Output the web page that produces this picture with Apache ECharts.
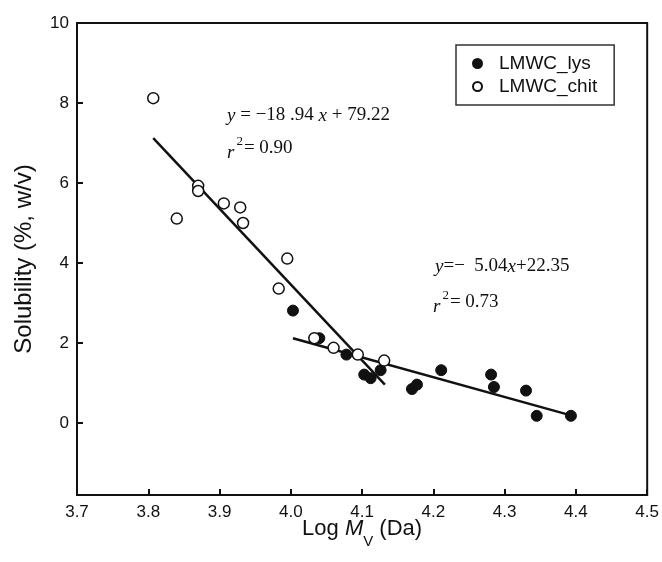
<!DOCTYPE html>
<html>
<head>
<meta charset="utf-8">
<script src="https://cdn.jsdelivr.net/npm/echarts@6/dist/echarts.min.js"></script>
<style>
html,body{margin:0;padding:0;background:#fff;}
#chart{width:662px;height:562px;}
</style>
</head>
<body>
<div id="chart"></div>
<script>
// ---- data ----
const lysX = [4.003, 4.040, 4.078, 4.103, 4.112, 4.126, 4.170, 4.177, 4.211, 4.281, 4.285, 4.330, 4.345, 4.393];
const lysY = [2.81, 2.12, 1.71, 1.21, 1.12, 1.32, 0.85, 0.96, 1.32, 1.21, 0.90, 0.81, 0.18, 0.18];
const chitX = [3.807, 3.840, 3.870, 3.870, 3.906, 3.929, 3.933, 3.995, 3.983, 4.033, 4.060, 4.094, 4.131];
const chitY = [8.12, 5.11, 5.93, 5.80, 5.49, 5.39, 5.00, 4.11, 3.36, 2.12, 1.88, 1.71, 1.56];
const fit1X = [3.807, 4.132];
const fit1Y = [7.12, 0.96];
const fit2X = [4.003, 4.393];
const fit2Y = [2.12, 0.19];
const xTicks = ['3.7','3.8','3.9','4.0','4.1','4.2','4.3','4.4','4.5'];
const yTicks = ['0','2','4','6','8','10'];
const seriesNames = ['LMWC_lys', 'LMWC_chit'];

const pairs = (xs, ys) => xs.map((x, i) => [x, ys[i]]);
const ink = '#111';
const sans = 'Liberation Sans, Arial, sans-serif';
const serif = 'Liberation Serif, Times New Roman, serif';

const chart = echarts.init(document.getElementById('chart'), null, {renderer: 'canvas'});
chart.setOption({
  animation: false,
  backgroundColor: '#fff',
  grid: {left: 77, right: 11, top: 23, bottom: 67, show: true, borderColor: ink, borderWidth: 2, backgroundColor: 'transparent'},
  xAxis: {
    type: 'value', min: 3.7, max: 4.5, interval: 0.1,
    axisLine: {show: true, onZero: false, lineStyle: {color: ink, width: 2}},
    axisTick: {show: true, inside: true, length: 6, lineStyle: {color: ink, width: 2}},
    splitLine: {show: false},
    axisLabel: {color: ink, fontSize: 17, fontFamily: sans, margin: 9,
      formatter: v => { const s = v.toFixed(1); return xTicks.includes(s) ? s : ''; }},
    name: '{n|Log }{m|M}{s|V}{n| (Da)}',
    nameLocation: 'middle', nameGap: 23, nameMoveOverlap: false,
    nameTextStyle: {
      rich: {
        n: {fontSize: 22, fontFamily: sans, color: ink, lineHeight: 26, verticalAlign: 'top'},
        m: {fontSize: 22, fontFamily: sans, fontStyle: 'italic', color: ink, lineHeight: 26, verticalAlign: 'top'},
        s: {fontSize: 15, fontFamily: sans, color: ink, lineHeight: 31, verticalAlign: 'bottom'}
      }
    }
  },
  yAxis: {
    type: 'value', min: -1.8, max: 10, minInterval: 2, maxInterval: 2,
    axisLine: {show: true, onZero: false, lineStyle: {color: ink, width: 2}},
    axisTick: {show: true, inside: true, length: 6, lineStyle: {color: ink, width: 2}},
    splitLine: {show: false},
    axisLabel: {color: ink, fontSize: 17, fontFamily: sans, margin: 8,
      formatter: v => { const s = String(Math.round(v)); return (Math.abs(v - Math.round(v)) < 1e-6 && yTicks.includes(s)) ? s : ''; }},
    name: 'Solubility (%, w/v)',
    nameLocation: 'middle', nameGap: 41, nameMoveOverlap: false,
    nameTextStyle: {fontSize: 24, fontFamily: sans, color: ink}
  },
  legend: {
    orient: 'vertical', left: 456, top: 45,
    padding: [9, 17, 9, 16], itemGap: 4,
    borderColor: '#333', borderWidth: 1.5,
    itemWidth: 9, itemHeight: 9,
    textStyle: {fontSize: 19, fontFamily: sans, color: ink, padding: [0, 0, 0, 12]},
    data: [
      {name: seriesNames[0], icon: 'circle'},
      {name: seriesNames[1], icon: 'circle'}
    ]
  },
  graphic: [
    {type: 'text', left: 227, top: 106, style: {
      text: '{i|y} = \u221218 .94 {i|x} + 79.22',
      rich: {i: {fontStyle: 'italic', fontFamily: serif, fontSize: 19, fill: ink}},
      font: '19px ' + serif, fill: ink}},
    {type: 'text', left: 227, top: 135, style: {
      text: '{i|r}{p|2}= 0.90',
      rich: {i: {fontStyle: 'italic', fontFamily: serif, fontSize: 19, fill: ink, lineHeight: 27, verticalAlign: 'bottom'},
             p: {fontFamily: serif, fontSize: 13, fill: ink, lineHeight: 27, verticalAlign: 'top', padding: [0, 1, 0, 2]}},
      font: '19px ' + serif, fill: ink}},
    {type: 'text', left: 435, top: 257, style: {
      text: '{i|y}=\u2212  5.04{i|x}+22.35',
      rich: {i: {fontStyle: 'italic', fontFamily: serif, fontSize: 19, fill: ink}},
      font: '19px ' + serif, fill: ink}},
    {type: 'text', left: 433, top: 289, style: {
      text: '{i|r}{p|2}= 0.73',
      rich: {i: {fontStyle: 'italic', fontFamily: serif, fontSize: 19, fill: ink, lineHeight: 27, verticalAlign: 'bottom'},
             p: {fontFamily: serif, fontSize: 13, fill: ink, lineHeight: 27, verticalAlign: 'top', padding: [0, 1, 0, 2]}},
      font: '19px ' + serif, fill: ink}}
  ],
  series: [
    {type: 'line', data: pairs(fit1X, fit1Y), showSymbol: false, symbol: 'none', lineStyle: {color: ink, width: 2.5}, z: 1, silent: true},
    {type: 'line', data: pairs(fit2X, fit2Y), showSymbol: false, symbol: 'none', lineStyle: {color: ink, width: 2.5}, z: 1, silent: true},
    {name: seriesNames[0], type: 'scatter', data: pairs(lysX, lysY), symbol: 'circle', symbolSize: 11,
      itemStyle: {color: ink, borderColor: ink, borderWidth: 1, opacity: 1}, z: 3},
    {name: seriesNames[1], type: 'scatter', data: pairs(chitX, chitY), symbol: 'circle', symbolSize: 11,
      itemStyle: {color: '#fff', borderColor: ink, borderWidth: 1.5, opacity: 1}, z: 4}
  ]
});
</script>
</body>
</html>
